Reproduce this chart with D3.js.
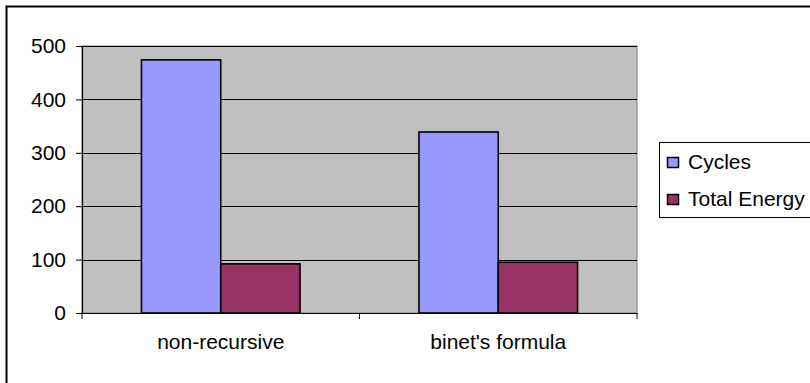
<!DOCTYPE html>
<html>
<head>
<meta charset="utf-8">
<script src="https://cdn.jsdelivr.net/npm/d3@7"></script>
<style>
  html, body { margin: 0; padding: 0; background: #fff; }
  svg { display: block; font-family: "Liberation Sans", Arial, sans-serif; }
</style>
</head>
<body>
<svg id="chart" width="810" height="383"></svg>
<script>
// Benchmark results for two Fibonacci implementations
const categories = ["non-recursive", "binet's formula"];
const seriesNames = ["Cycles", "Total Energy"];
const cycles = [474, 339];
const totalEnergy = [92, 95];
const yTicks = [0, 100, 200, 300, 400, 500];
const seriesColors = ["#9999FF", "#993366"];

const values = [cycles, totalEnergy];
const rows = categories.map((c, i) => ({
  category: c,
  bars: seriesNames.map((s, j) => ({ series: s, value: values[j][i] }))
}));

const svg = d3.select("#chart");
const plot = { left: 82, right: 637, top: 46, bottom: 313 };
const fontSize = 21;

// Outer chart frame (runs off the right and bottom edges)
svg.append("rect")
  .attr("x", 6.5).attr("y", 6.5)
  .attr("width", 900).attr("height", 500)
  .attr("fill", "#fff")
  .attr("stroke", "#000").attr("stroke-width", 2);

const y = d3.scaleLinear().domain([0, 500]).range([plot.bottom, plot.top]);
const x0 = d3.scaleBand().domain(categories).range([plot.left, plot.right]).padding(0);
const x1 = d3.scaleBand().domain(seriesNames).range([0, x0.bandwidth()])
  .paddingInner(0).paddingOuter(0.75);

// Plot area background
svg.append("rect")
  .attr("x", plot.left).attr("y", plot.top)
  .attr("width", plot.right - plot.left).attr("height", plot.bottom - plot.top)
  .attr("fill", "#C0C0C0")
  .attr("stroke", "#808080").attr("stroke-width", 1);

// Horizontal gridlines
svg.append("g")
  .selectAll("line")
  .data(yTicks.filter(d => d > 0))
  .join("line")
  .attr("x1", plot.left).attr("x2", plot.right)
  .attr("y1", d => Math.round(y(d)) + 0.5).attr("y2", d => Math.round(y(d)) + 0.5)
  .attr("stroke", "#000").attr("stroke-width", 1);

// Bars
svg.append("g")
  .selectAll("g")
  .data(rows)
  .join("g")
  .attr("transform", d => `translate(${x0(d.category)},0)`)
  .selectAll("rect")
  .data(d => d.bars)
  .join("rect")
  .attr("x", d => x1(d.series))
  .attr("y", d => y(d.value))
  .attr("width", x1.bandwidth())
  .attr("height", d => y(0) - y(d.value))
  .attr("fill", d => seriesColors[seriesNames.indexOf(d.series)])
  .attr("stroke", "#000").attr("stroke-width", 1.6);

// Y axis
const yAxis = svg.append("g")
  .attr("transform", `translate(${plot.left},0)`)
  .call(d3.axisLeft(y).tickValues(yTicks).tickSize(6).tickPadding(10).tickFormat(d3.format("d")));
yAxis.select(".domain").attr("stroke", "#000").attr("stroke-width", 1.2);
yAxis.selectAll(".tick line").attr("stroke", "#000");
yAxis.selectAll("text")
  .attr("font-size", fontSize).attr("fill", "#000")
  .attr("font-family", "Liberation Sans, Arial, sans-serif");

// X axis with ticks on category boundaries
const xAxis = svg.append("g")
  .attr("transform", `translate(0,${plot.bottom})`)
  .call(d3.axisBottom(x0).tickSize(0).tickPadding(21));
xAxis.select(".domain").attr("stroke", "#000").attr("stroke-width", 1.2);
xAxis.selectAll("text")
  .attr("font-size", fontSize).attr("fill", "#000")
  .attr("font-family", "Liberation Sans, Arial, sans-serif");
const bounds = categories.map(c => x0(c)).concat([x0(categories[categories.length - 1]) + x0.bandwidth()]);
xAxis.selectAll("line.bound")
  .data(bounds)
  .join("line")
  .attr("class", "bound")
  .attr("x1", d => d).attr("x2", d => d)
  .attr("y1", 0).attr("y2", 6)
  .attr("stroke", "#000");

// Legend
const legend = svg.append("g");
legend.append("rect")
  .attr("x", 659.5).attr("y", 142.5)
  .attr("width", 200).attr("height", 75)
  .attr("fill", "#fff")
  .attr("stroke", "#000").attr("stroke-width", 1);
const items = legend.selectAll("g.item")
  .data(seriesNames)
  .join("g")
  .attr("class", "item")
  .attr("transform", (d, i) => `translate(667,${162 + i * 37})`);
items.append("rect")
  .attr("x", 0.5).attr("y", -4.5)
  .attr("width", 11).attr("height", 10)
  .attr("fill", (d, i) => seriesColors[i])
  .attr("stroke", "#000").attr("stroke-width", 1.5);
items.append("text")
  .attr("x", 21).attr("y", 0)
  .attr("dy", "0.35em")
  .attr("font-size", fontSize)
  .text(d => d);
</script>
</body>
</html>
